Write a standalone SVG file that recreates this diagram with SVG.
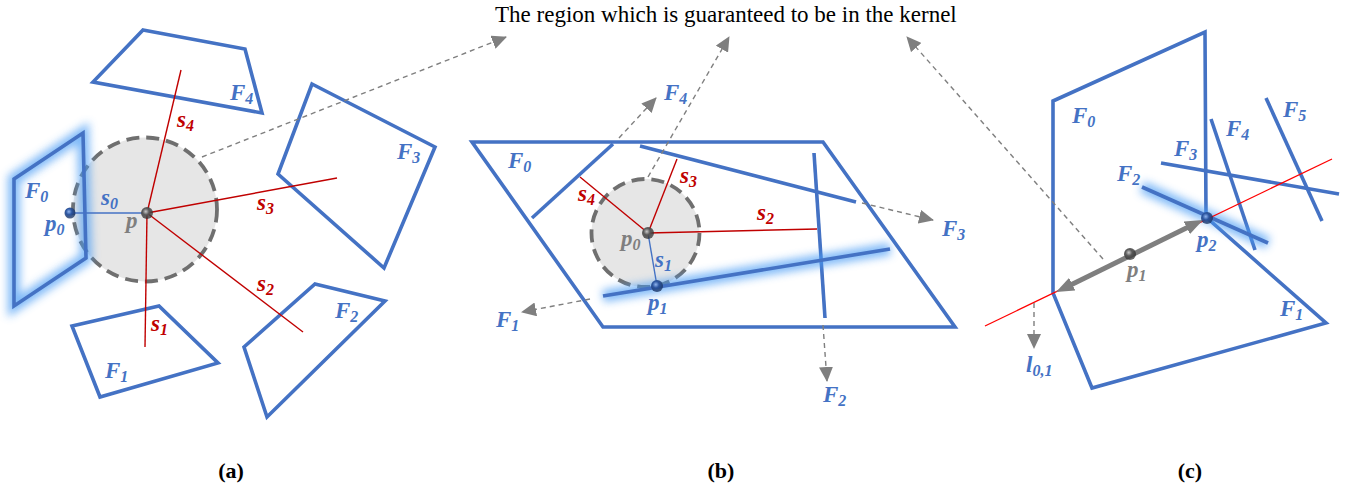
<svg xmlns="http://www.w3.org/2000/svg" width="1352" height="488" viewBox="0 0 1352 488">
<style>
.face{fill:none;stroke:#4472C4;stroke-width:3.6;stroke-linejoin:miter}
.seg{stroke:#4472C4;stroke-width:3.6;fill:none}
.glow{stroke:#4a9cf5;stroke-width:12;fill:none;opacity:0.7;filter:url(#blur)}
.red{stroke:#C00000;stroke-width:1.4;fill:none}
.bl{stroke:#4472C4;stroke-width:1.4;fill:none}
.dash{stroke:#7f7f7f;stroke-width:1.4;stroke-dasharray:5 4;fill:none;marker-end:url(#ah)}
.kern{fill:#e6e6e6;stroke:#6f6f6f;stroke-width:3.8;stroke-dasharray:13 7}
.lab{font-family:"Liberation Serif","Times New Roman",serif;font-style:italic;font-weight:bold;font-size:23px}
.lb{fill:#4472C4}
.lr{fill:#C00000}
.lg{fill:#7f7f7f}
.sub{font-size:16px}
.cap{font-family:"Liberation Serif","Times New Roman",serif;font-weight:bold;font-size:22px;fill:#000;text-anchor:middle}
</style>
<defs>
<filter id="blur" x="-50%" y="-50%" width="200%" height="200%"><feGaussianBlur stdDeviation="4"/></filter>
<marker id="ah" markerWidth="15" markerHeight="14" refX="14" refY="7" orient="auto" markerUnits="userSpaceOnUse"><path d="M0,0 L15,7 L0,14 z" fill="#7f7f7f"/></marker>
<marker id="ah2" markerWidth="18" markerHeight="14" refX="4" refY="7" orient="auto-start-reverse" markerUnits="userSpaceOnUse"><path d="M0,0 L18,7 L0,14 z" fill="#7f7f7f"/></marker>
<radialGradient id="gball" cx="0.4" cy="0.38" r="0.6"><stop offset="0" stop-color="#c8c8c8"/><stop offset="0.45" stop-color="#5a5a5a"/><stop offset="1" stop-color="#2a2a2a" stop-opacity="0.7"/></radialGradient>
<radialGradient id="bball" cx="0.4" cy="0.38" r="0.6"><stop offset="0" stop-color="#8fb4ee"/><stop offset="0.45" stop-color="#2c55a0"/><stop offset="1" stop-color="#17305e" stop-opacity="0.75"/></radialGradient>
</defs>
<rect width="1352" height="488" fill="#fff"/>

<text id="title" x="495" y="22" style="font-family:'Liberation Serif','Times New Roman',serif;font-size:23px;fill:#000">The region which is guaranteed to be in the kernel</text>

<!-- ===== Panel (a) ===== -->
<g id="a-kernel"><circle class="kern" cx="145" cy="209.5" r="72"/></g>
<g id="a-F0">
<polygon class="glow" points="83,133 86,258 14,306 14,179"/>
<polygon class="face" points="83,133 86,258 14,306 14,179"/>
<text class="lab lb" x="25" y="198">F<tspan class="sub" dy="4">0</tspan></text>
</g>
<g id="a-F1"><polygon class="face" points="72,326 159,306 218,363 100,397"/><text class="lab lb" x="105" y="378">F<tspan class="sub" dy="4">1</tspan></text></g>
<g id="a-F2"><polygon class="face" points="315,284 385,301 267,417 244,347"/><text class="lab lb" x="335" y="318">F<tspan class="sub" dy="4">2</tspan></text></g>
<g id="a-F3"><polygon class="face" points="312,84 435,147 384,268 278,174"/><text class="lab lb" x="397" y="159">F<tspan class="sub" dy="4">3</tspan></text></g>
<g id="a-F4"><polygon class="face" points="143,30 245,49 262,113 93,82"/><text class="lab lb" x="230" y="100">F<tspan class="sub" dy="4">4</tspan></text></g>

<!-- ===== Panel (b) ===== -->
<g id="b-F0"><polygon class="face" points="472,142 823,142 955,327 603,327"/><text class="lab lb" x="508" y="168">F<tspan class="sub" dy="4">0</tspan></text></g>
<g id="b-kernel"><circle class="kern" cx="645.5" cy="233" r="54"/></g>
<g id="b-F4"><line class="seg" x1="613" y1="144" x2="532" y2="218"/><text class="lab lb" x="664" y="100">F<tspan class="sub" dy="4">4</tspan></text></g>
<g id="b-F3"><line class="seg" x1="640" y1="146" x2="856" y2="202"/><text class="lab lb" x="942" y="236">F<tspan class="sub" dy="4">3</tspan></text></g>
<g id="b-F2"><line class="seg" x1="814" y1="153" x2="825" y2="318"/><text class="lab lb" x="823" y="402">F<tspan class="sub" dy="4">2</tspan></text></g>
<g id="b-F1">
<line class="glow" x1="603" y1="296" x2="890" y2="249"/>
<line class="seg" x1="603" y1="296" x2="890" y2="249"/>
<text class="lab lb" x="496" y="327">F<tspan class="sub" dy="4">1</tspan></text>
</g>

<!-- ===== Panel (c) ===== -->
<g id="c-F0F1"><polygon class="face" points="1053,101 1205,32 1206,217 1326,323 1092,388 1053,293"/>
<text class="lab lb" x="1072" y="123">F<tspan class="sub" dy="4">0</tspan></text>
<text class="lab lb" x="1280" y="316">F<tspan class="sub" dy="4">1</tspan></text></g>
<g id="c-F3"><line class="seg" x1="1161" y1="163" x2="1339" y2="194"/><text class="lab lb" x="1174" y="156">F<tspan class="sub" dy="4">3</tspan></text></g>
<g id="c-F4"><line class="seg" x1="1211" y1="119" x2="1255" y2="250"/><text class="lab lb" x="1226" y="136">F<tspan class="sub" dy="4">4</tspan></text></g>
<g id="c-F5"><line class="seg" x1="1266" y1="98" x2="1322" y2="221"/><text class="lab lb" x="1283" y="117">F<tspan class="sub" dy="4">5</tspan></text></g>
<g id="c-F2">
<line class="glow" x1="1142" y1="187" x2="1268" y2="243"/>
<line class="seg" x1="1142" y1="187" x2="1268" y2="243"/>
<text class="lab lb" x="1117" y="181">F<tspan class="sub" dy="4">2</tspan></text>
</g>

<!-- ===== connectors ===== -->
<g id="connectors">
<line class="bl" x1="70" y1="213" x2="147" y2="213"/>
<line class="red" x1="147" y1="213" x2="181" y2="70"/>
<line class="red" x1="147" y1="213" x2="337" y2="178"/>
<line class="red" x1="147" y1="213" x2="303" y2="332"/>
<line class="red" x1="147" y1="213" x2="145" y2="347"/>
<line class="dash" x1="202" y1="157" x2="506" y2="37"/>

<line class="red" x1="648" y1="233" x2="580" y2="177"/>
<line class="red" x1="648" y1="233" x2="677" y2="159"/>
<line class="red" x1="648" y1="233" x2="817" y2="229"/>
<line class="bl" x1="648" y1="233" x2="657" y2="286"/>
<line class="dash" x1="619" y1="138" x2="656" y2="98"/>
<line class="dash" x1="648" y1="177" x2="729" y2="37"/>
<line class="dash" x1="862" y1="203" x2="933" y2="220"/>
<line class="dash" x1="590" y1="299" x2="522" y2="312"/>
<line class="dash" x1="823" y1="325" x2="827" y2="381"/>

<line x1="985" y1="326" x2="1332" y2="159" style="stroke:#ff0000;stroke-width:1.3"/>
<line class="dash" x1="1103" y1="259" x2="907" y2="37"/>
<line class="dash" x1="1034" y1="303" x2="1034" y2="348"/>
<line x1="1068.6" y1="285.9" x2="1190.4" y2="226.1" style="stroke:#7f7f7f;stroke-width:5;marker-start:url(#ah2);marker-end:url(#ah2)"/>
</g>

<!-- ===== points and point/segment labels ===== -->
<g id="a-points">
<circle cx="70" cy="213" r="5.5" fill="url(#bball)"/>
<circle cx="147" cy="213" r="6" fill="url(#gball)"/>
<text class="lab lb" x="45" y="231">p<tspan class="sub" dy="4">0</tspan></text>
<text class="lab lb" x="101" y="205">s<tspan class="sub" dy="4">0</tspan></text>
<text class="lab lg" x="126" y="228">p</text>
<text class="lab lr" x="177" y="127">s<tspan class="sub" dy="4">4</tspan></text>
<text class="lab lr" x="257" y="210">s<tspan class="sub" dy="4">3</tspan></text>
<text class="lab lr" x="257" y="291">s<tspan class="sub" dy="4">2</tspan></text>
<text class="lab lr" x="151" y="331">s<tspan class="sub" dy="4">1</tspan></text>
</g>
<g id="b-points">
<circle cx="648" cy="233" r="6" fill="url(#gball)"/>
<circle cx="657" cy="286" r="6" fill="url(#bball)"/>
<text class="lab lg" x="621" y="246">p<tspan class="sub" dy="4">0</tspan></text>
<text class="lab lb" x="655" y="267">s<tspan class="sub" dy="4">1</tspan></text>
<text class="lab lb" x="648" y="310">p<tspan class="sub" dy="4">1</tspan></text>
<text class="lab lr" x="578" y="201">s<tspan class="sub" dy="4">4</tspan></text>
<text class="lab lr" x="680" y="183">s<tspan class="sub" dy="4">3</tspan></text>
<text class="lab lr" x="757" y="220">s<tspan class="sub" dy="4">2</tspan></text>
</g>
<g id="c-points">
<circle cx="1130" cy="254" r="6" fill="url(#gball)"/>
<circle cx="1207" cy="218" r="6" fill="url(#bball)"/>
<text class="lab lg" x="1127" y="277">p<tspan class="sub" dy="4">1</tspan></text>
<text class="lab lb" x="1197" y="247">p<tspan class="sub" dy="4">2</tspan></text>
<text class="lab lb" x="1026" y="372">l<tspan class="sub" dy="4">0,1</tspan></text>
</g>

<g id="captions">
<text class="cap" x="231" y="478">(a)</text>
<text class="cap" x="721" y="478">(b)</text>
<text class="cap" x="1190" y="478">(c)</text>
</g>
</svg>
